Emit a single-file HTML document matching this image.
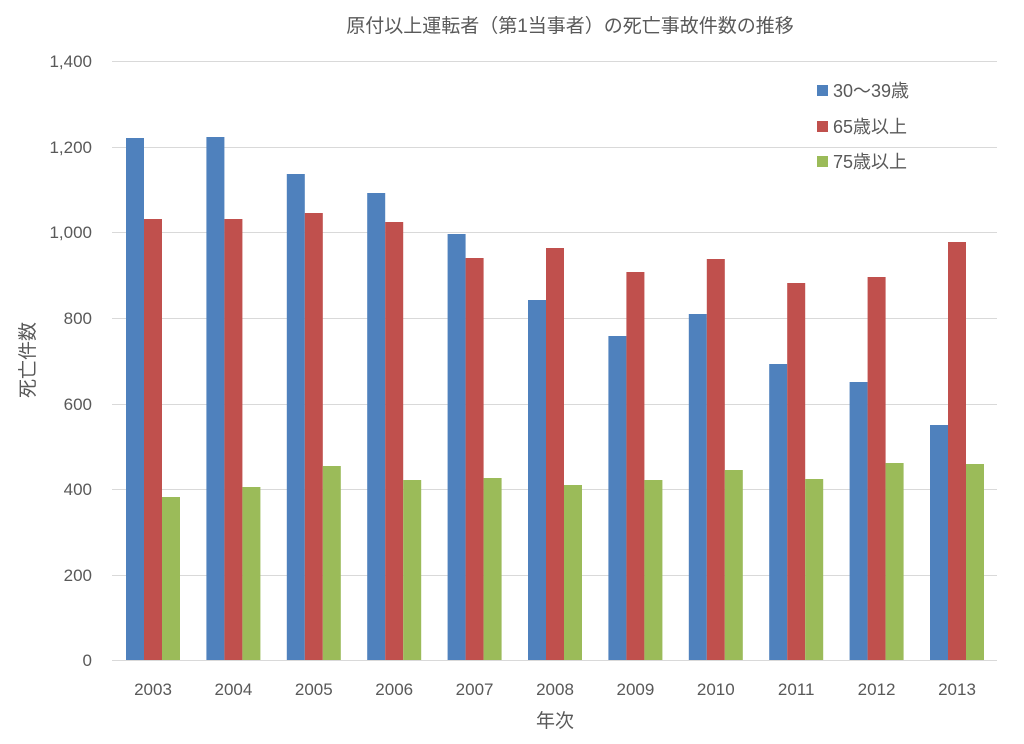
<!DOCTYPE html>
<html><head><meta charset="utf-8"><style>
body{margin:0;background:#fff}
svg text{font-family:"Liberation Sans","Noto Sans CJK JP",sans-serif;fill:#595959}
</style></head><body>
<svg width="1024" height="739" xmlns="http://www.w3.org/2000/svg">
<text x="570" y="32" font-size="19" text-anchor="middle" fill="#595959">原付以上運転者（第1当事者）の死亡事故件数の推移</text>
<g stroke="#d9d9d9" stroke-width="1">
<line x1="112" x2="997" y1="61.5" y2="61.5"/><line x1="112" x2="997" y1="147.5" y2="147.5"/>
<line x1="112" x2="997" y1="232.5" y2="232.5"/><line x1="112" x2="997" y1="318.5" y2="318.5"/>
<line x1="112" x2="997" y1="404.5" y2="404.5"/><line x1="112" x2="997" y1="489.5" y2="489.5"/>
<line x1="112" x2="997" y1="575.5" y2="575.5"/><line x1="112" x2="997" y1="660.5" y2="660.5"/>
</g>
<g font-size="17" text-anchor="end">
<text x="92" y="67">1,400</text><text x="92" y="153">1,200</text><text x="92" y="238">1,000</text>
<text x="92" y="324">800</text><text x="92" y="410">600</text><text x="92" y="495">400</text>
<text x="92" y="581">200</text><text x="92" y="666">0</text>
</g>
<text transform="translate(34,360) rotate(-90)" font-size="19" text-anchor="middle">死亡件数</text>
<text x="555" y="727" font-size="19" text-anchor="middle">年次</text>
<g id="bars"></g>
<g font-size="17" text-anchor="middle" id="xl"></g>
<rect x="817" y="85" width="11" height="11" fill="#4F81BD"/><text x="833" y="97" font-size="18">30〜39歳</text>
<rect x="817" y="121" width="11" height="11" fill="#C0504D"/><text x="833" y="133" font-size="18">65歳以上</text>
<rect x="817" y="156" width="11" height="11" fill="#9BBB59"/><text x="833" y="168" font-size="18">75歳以上</text>
<script>
var t=[[138,219,497],[137,219,487],[174,213,466],[193,222,480],[234,258,478],[300,248,485],[336,272,480],[314,259,470],[364,283,479],[382,277,463],[425,242,464]];
var c=["#4F81BD","#C0504D","#9BBB59"],ns="http://www.w3.org/2000/svg",b=document.getElementById("bars"),xl=document.getElementById("xl");
t.forEach(function(g,i){var x0=126+80.4*i;g.forEach(function(y,j){var r=document.createElementNS(ns,"rect");r.setAttribute("x",x0+18*j);r.setAttribute("y",y);r.setAttribute("width",18);r.setAttribute("height",660-y);r.setAttribute("fill",c[j]);b.appendChild(r);});
var tx=document.createElementNS(ns,"text");tx.setAttribute("x",x0+27);tx.setAttribute("y",695);tx.textContent=2003+i;xl.appendChild(tx);});
</script>
</svg>
</body></html>
